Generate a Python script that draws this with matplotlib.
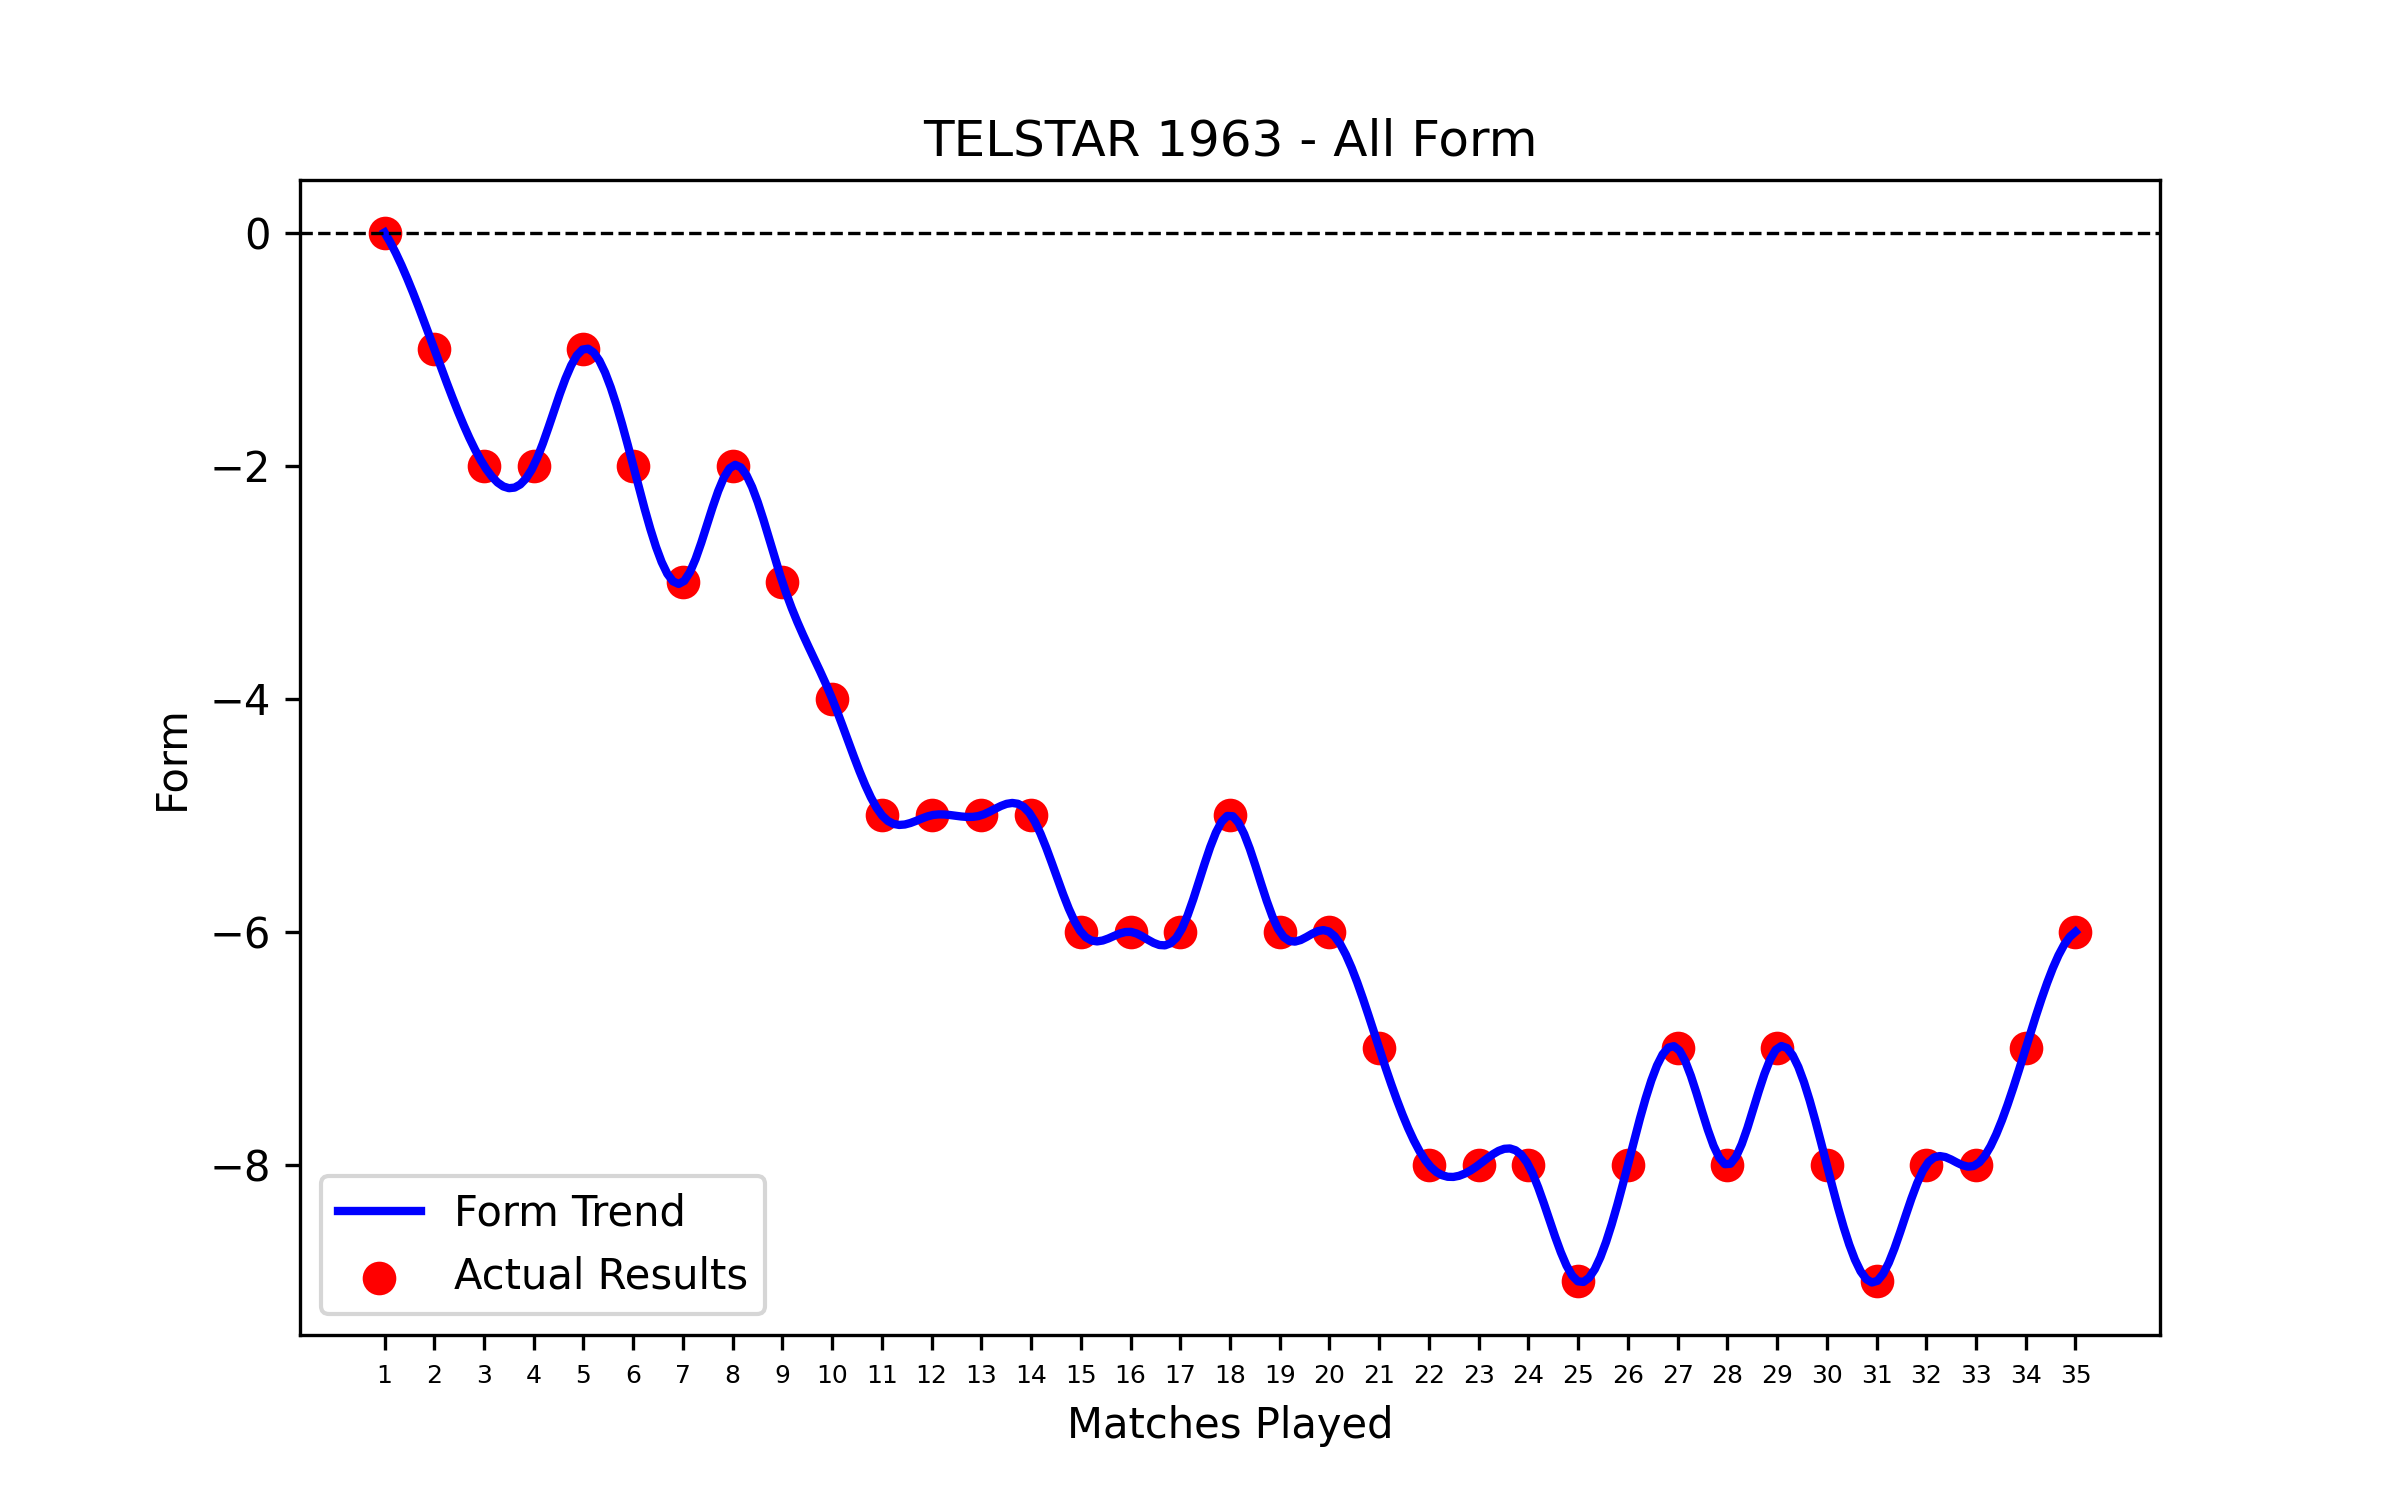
import numpy as np
import matplotlib
matplotlib.use("Agg")
import matplotlib.pyplot as plt

matches = np.arange(1, 36)
form = [0, -1, -2, -2, -1, -2, -3, -2, -3, -4,
        -5, -5, -5, -5, -6, -6, -6, -5, -6, -6,
        -7, -8, -8, -8, -9, -8, -7, -8, -7, -8,
        -9, -8, -8, -7, -6]


def not_a_knot_spline(x, y, xs):
    # cubic spline with not-a-knot ends (same as scipy make_interp_spline k=3)
    x = np.asarray(x, float)
    y = np.asarray(y, float)
    n = len(x)
    h = np.diff(x)
    A = np.zeros((n, n))
    b = np.zeros(n)
    A[0, 0] = h[1]
    A[0, 1] = -(h[0] + h[1])
    A[0, 2] = h[0]
    A[-1, -3] = h[-1]
    A[-1, -2] = -(h[-2] + h[-1])
    A[-1, -1] = h[-2]
    for i in range(1, n - 1):
        A[i, i - 1] = h[i - 1]
        A[i, i] = 2 * (h[i - 1] + h[i])
        A[i, i + 1] = h[i]
        b[i] = 6 * ((y[i + 1] - y[i]) / h[i] - (y[i] - y[i - 1]) / h[i - 1])
    M = np.linalg.solve(A, b)
    idx = np.clip(np.searchsorted(x, xs) - 1, 0, n - 2)
    x0, x1 = x[idx], x[idx + 1]
    hh = x1 - x0
    t0 = x1 - xs
    t1 = xs - x0
    return (M[idx] * t0 ** 3 / (6 * hh) + M[idx + 1] * t1 ** 3 / (6 * hh)
            + (y[idx] / hh - M[idx] * hh / 6) * t0
            + (y[idx + 1] / hh - M[idx + 1] * hh / 6) * t1)


x_smooth = np.linspace(matches.min(), matches.max(), 300)
y_smooth = not_a_knot_spline(matches, form, x_smooth)

fig, ax = plt.subplots(figsize=(8, 5), dpi=300)
ax.plot(x_smooth, y_smooth, color='blue', linewidth=2, label='Form Trend')
ax.scatter(matches, form, color='red', s=50, label='Actual Results')
ax.axhline(0, color='black', linestyle='--', linewidth=0.8)
ax.set_title('TELSTAR 1963 - All Form')
ax.set_xlabel('Matches Played')
ax.set_ylabel('Form')
ax.set_xticks(matches)
ax.tick_params(axis='x', labelsize=6)
ax.legend(loc='lower left')

fig.savefig('out.png', dpi=300)
